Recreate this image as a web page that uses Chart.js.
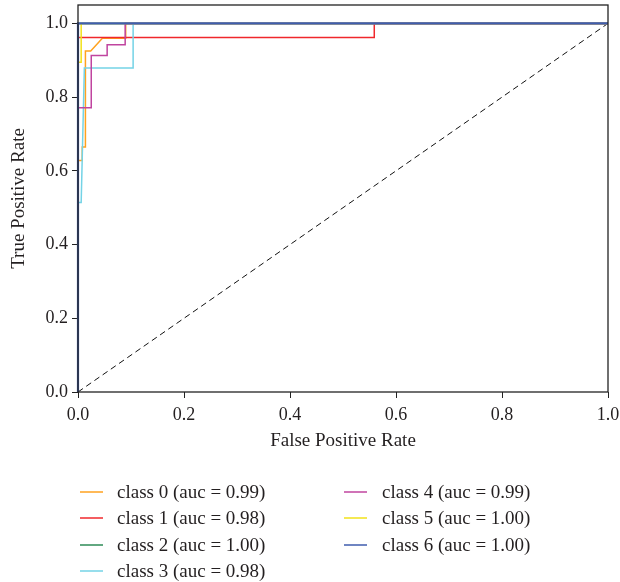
<!DOCTYPE html>
<html>
<head>
<meta charset="utf-8">
<script src="https://cdn.jsdelivr.net/npm/chart.js@4.4.1/dist/chart.umd.min.js"></script>
<style>
  html, body { margin: 0; padding: 0; background: #fff; overflow: hidden; }
  #wrap { width: 620px; height: 582px; position: relative; }
</style>
</head>
<body>
<div id="wrap"><canvas id="rocCanvas"></canvas></div>
<script>
// ROC curves (false positive rate / true positive rate)
const classNames = ['class 0', 'class 1', 'class 2', 'class 3', 'class 4', 'class 5', 'class 6'];
const aucValues = ['0.99', '0.98', '1.00', '0.98', '0.99', '1.00', '1.00'];

const fpr0 = [0, 0, 0.008, 0.008, 0.014, 0.014, 0.024, 0.046, 0.09, 0.09, 1];
const tpr0 = [0, 0.628, 0.628, 0.665, 0.665, 0.925, 0.925, 0.96, 0.96, 1, 1];
const fpr1 = [0, 0, 0.559, 0.559, 1];
const tpr1 = [0, 0.962, 0.962, 1, 1];
const fpr2 = [0, 0, 1];
const tpr2 = [0, 1, 1];
const fpr3 = [0, 0, 0.006, 0.012, 0.104, 0.104, 1];
const tpr3 = [0, 0.514, 0.514, 0.879, 0.879, 1, 1];
const fpr4 = [0, 0, 0.025, 0.025, 0.055, 0.055, 0.089, 0.089, 1];
const tpr4 = [0, 0.771, 0.771, 0.913, 0.913, 0.942, 0.942, 1, 1];
const fpr5 = [0, 0, 0.006, 0.006, 1];
const tpr5 = [0, 0.895, 0.895, 1, 1];
const fpr6 = [0, 0, 1];
const tpr6 = [0, 1, 1];

const chanceFpr = [0, 1];
const chanceTpr = [0, 1];

const tickValues = [0, 0.2, 0.4, 0.6, 0.8, 1.0];

const lineColors = ['#FFA21F', '#F0282C', '#2E8B57', '#74D3E6', '#C0449F', '#F2E21A', '#3F5DAE'];

const allFpr = [fpr0, fpr1, fpr2, fpr3, fpr4, fpr5, fpr6];
const allTpr = [tpr0, tpr1, tpr2, tpr3, tpr4, tpr5, tpr6];

const serif = "'Liberation Serif', 'Times New Roman', serif";
const inkColor = '#231F20';
Chart.defaults.font.family = serif;
Chart.defaults.color = inkColor;

const toPoints = (xs, ys) => xs.map((x, i) => ({ x: x, y: ys[i] }));

// Chart.js paints index 0 last, so the list is reversed: class 6 ends on top
// (a touch wider so it hides the lines it sits on at tpr = 1)
const datasets = classNames.map((name, i) => ({
  label: `${name} (auc = ${aucValues[i]})`,
  data: toPoints(allFpr[i], allTpr[i]),
  borderColor: lineColors[i],
  borderWidth: i === classNames.length - 1 ? 2.2 : 1.5,
  showLine: true,
  pointRadius: 0,
  tension: 0,
  clip: false
})).reverse();
datasets.push({
  label: 'chance',
  data: toPoints(chanceFpr, chanceTpr),
  borderColor: '#111',
  borderWidth: 1,
  borderDash: [6, 4],
  showLine: true,
  pointRadius: 0,
  clip: false
});

// box around the plot area
const frameBox = {
  id: 'frameBox',
  afterDatasetsDraw(chart) {
    const { ctx, chartArea: a } = chart;
    ctx.save();
    ctx.strokeStyle = '#222';
    ctx.lineWidth = 1.3;
    ctx.strokeRect(a.left, a.top, a.right - a.left, a.bottom - a.top);
    ctx.restore();
  }
};

// two-column legend under the axes (column by column, like the original)
const columnLegend = {
  id: 'columnLegend',
  afterDraw(chart) {
    const ctx = chart.ctx;
    const rowY = [492, 518, 545, 571];
    const lineX = [80, 344];
    const textX = [117, 382];
    ctx.save();
    ctx.font = `19px ${serif}`;
    ctx.textBaseline = 'middle';
    ctx.fillStyle = inkColor;
    classNames.forEach((name, i) => {
      const col = i < 4 ? 0 : 1;
      const row = i < 4 ? i : i - 4;
      const y = rowY[row];
      ctx.strokeStyle = lineColors[i];
      ctx.lineWidth = 1.5;
      ctx.beginPath();
      ctx.moveTo(lineX[col], y);
      ctx.lineTo(lineX[col] + 23, y);
      ctx.stroke();
      ctx.fillText(`${name} (auc = ${aucValues[i]})`, textX[col], y + 1);
    });
    ctx.restore();
  }
};

const setTicks = (scale) => {
  scale.ticks = tickValues.map(v => ({ value: v }));
};

new Chart(document.getElementById('rocCanvas'), {
  type: 'scatter',
  data: { datasets: datasets },
  options: {
    responsive: true,
    maintainAspectRatio: false,
    animation: false,
    layout: { padding: { top: 5, right: 12, bottom: 130, left: 0 } },
    plugins: {
      legend: { display: false },
      tooltip: { enabled: false }
    },
    scales: {
      x: {
        type: 'linear',
        min: 0,
        max: 1,
        afterBuildTicks: setTicks,
        afterFit: (scale) => { scale.height = 60; scale.paddingRight = 0; scale.paddingLeft = 0; },
        grid: { drawOnChartArea: false, drawTicks: true, tickLength: 6, color: '#222' },
        border: { display: false },
        ticks: { padding: 6, font: { size: 18 }, color: inkColor, callback: v => v.toFixed(1) },
        title: { display: true, text: 'False Positive Rate', font: { size: 19 }, color: inkColor, padding: { top: 0, bottom: 0 } }
      },
      y: {
        type: 'linear',
        min: 0,
        max: 1.05,
        afterBuildTicks: setTicks,
        afterFit: (scale) => { scale.width = 78; scale.paddingTop = 0; scale.paddingBottom = 0; },
        grid: { drawOnChartArea: false, drawTicks: true, tickLength: 6, color: '#222' },
        border: { display: false },
        ticks: { padding: 4, font: { size: 18 }, color: inkColor, callback: v => v.toFixed(1) },
        title: { display: true, text: 'True Positive Rate', font: { size: 19 }, color: inkColor, padding: { top: 8, bottom: 0 } }
      }
    }
  },
  plugins: [frameBox, columnLegend]
});
</script>
</body>
</html>
